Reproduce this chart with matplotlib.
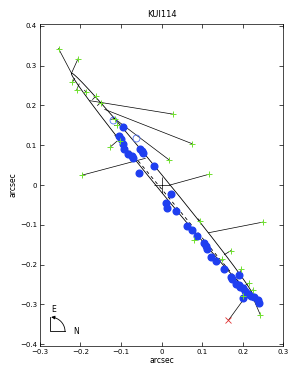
import numpy as np
import matplotlib
matplotlib.use("Agg")
import matplotlib.pyplot as plt

# orbit ends (apastron / periastron side) and projected minor half-width
orbit_a_end = (-0.222, 0.281)
orbit_b_end = (0.224, -0.275)
orbit_minor = 0.014

# dashed line
dash_x = [-0.11, 0.20]
dash_y = [0.125, -0.255]

# measured positions (green +) and predicted positions on the orbit
gx = [-0.254, -0.206, -0.220, -0.209, -0.186, -0.162, -0.150, 0.029, -0.115, -0.109,
      -0.102, -0.127, 0.075, 0.019, -0.195, 0.117, 0.096, 0.251, 0.081, 0.171,
      0.148, 0.197, 0.215, 0.225, 0.200, 0.244]
gy = [0.343, 0.317, 0.258, 0.240, 0.234, 0.223, 0.207, 0.178, 0.167, 0.150,
      0.110, 0.095, 0.104, 0.063, 0.025, 0.027, -0.091, -0.093, -0.138, -0.165,
      -0.187, -0.210, -0.247, -0.264, -0.280, -0.327]
px = [-0.222, -0.222, -0.214, -0.203, -0.190, -0.170, -0.158, -0.177, -0.125, -0.118,
      -0.115, -0.110, -0.140, -0.120, -0.040, 0.021, 0.090, 0.116, 0.088, 0.155,
      0.152, 0.192, 0.207, 0.218, 0.212, 0.222]
py = [0.281, 0.281, 0.268, 0.254, 0.238, 0.215, 0.200, 0.212, 0.165, 0.150,
      0.125, 0.110, 0.190, 0.170, 0.067, 0.000, -0.085, -0.120, -0.128, -0.175,
      -0.190, -0.232, -0.252, -0.266, -0.272, -0.275]

# rejected measurement (red x)
rx, ry = [0.165], [-0.340]
rpx, rpy = [0.215], [-0.270]

# blue filled points
bx = [-0.094, -0.105, -0.101, -0.096, -0.093, -0.082, -0.074, -0.070, -0.053, -0.049,
      -0.045, -0.018, -0.056, 0.023, 0.011, 0.013, 0.035, 0.064, 0.074, 0.087,
      0.105, 0.110, 0.113, 0.121, 0.135, 0.154, 0.171, 0.174, 0.192, 0.184,
      0.190, 0.194, 0.202, 0.206, 0.200, 0.214, 0.220, 0.227, 0.237, 0.240]
by = [0.146, 0.123, 0.115, 0.102, 0.090, 0.077, 0.073, 0.069, 0.090, 0.086,
      0.081, 0.048, 0.029, -0.023, -0.045, -0.057, -0.066, -0.103, -0.112, -0.128,
      -0.145, -0.154, -0.162, -0.181, -0.191, -0.212, -0.232, -0.235, -0.227, -0.249,
      -0.252, -0.257, -0.259, -0.267, -0.284, -0.275, -0.280, -0.282, -0.288, -0.296]

# blue open circles
ox = [-0.119, -0.062]
oy = [0.163, 0.119]

xticks = [-0.3, -0.2, -0.1, 0, 0.1, 0.2, 0.3]
yticks = [-0.4, -0.3, -0.2, -0.1, 0, 0.1, 0.2, 0.3, 0.4]

fig = plt.figure(figsize=(2.91, 3.73), dpi=100)
ax = fig.add_axes([0.137, 0.072, 0.836, 0.864])

# orbit ellipse
cx = (orbit_a_end[0] + orbit_b_end[0]) / 2
cy = (orbit_a_end[1] + orbit_b_end[1]) / 2
ux = (orbit_b_end[0] - orbit_a_end[0]) / 2
uy = (orbit_b_end[1] - orbit_a_end[1]) / 2
ua = np.hypot(ux, uy)
vx, vy = -uy / ua * orbit_minor, ux / ua * orbit_minor
t = np.linspace(0, 2 * np.pi, 400)
ax.plot(cx + ux * np.cos(t) + vx * np.sin(t), cy + uy * np.cos(t) + vy * np.sin(t),
        color='black', lw=0.6)

ax.plot(dash_x, dash_y, color='black', lw=0.6, ls=(0, (4, 4)))

# residual lines
for i in range(len(gx)):
    ax.plot([gx[i], px[i]], [gy[i], py[i]], color='black', lw=0.5)
for i in range(len(rx)):
    ax.plot([rx[i], rpx[i]], [ry[i], rpy[i]], color='black', lw=0.5)

# primary star
ax.plot([0], [0], marker='+', color='black', ms=12, mew=0.5)

ax.plot(bx, by, 'o', color='#1f3ff0', ms=4.8, mec='#1f3ff0')
ax.plot(ox, oy, 'o', mfc='none', mec='#5070f0', ms=5, mew=0.6)
ax.plot(gx, gy, '+', color='#70e030', ms=5, mew=0.7)
ax.plot(rx, ry, 'x', color='#e03030', ms=4, mew=0.6)

# compass
r = 0.036
c0 = (-0.274, -0.368)
th = np.linspace(0, np.pi / 2 - 0.15, 50)
ax.plot([c0[0], c0[0], c0[0] + r], [c0[1] + r, c0[1], c0[1]], color='black', lw=0.6)
ax.plot(c0[0] + r * np.cos(th), c0[1] + r * np.sin(th), color='black', lw=0.6)
ax.annotate('', xy=(c0[0] + 0.002, c0[1] + r), xytext=(c0[0] + r * np.cos(th[-1]), c0[1] + r * np.sin(th[-1])),
            arrowprops=dict(arrowstyle='-|>', color='black', lw=0.6, mutation_scale=5))
ax.text(-0.267, -0.313, 'E', fontsize=5.5, ha='center', va='center')
ax.text(-0.211, -0.368, 'N', fontsize=5.5, ha='center', va='center')

ax.set_xlim(-0.3, 0.3)
ax.set_ylim(-0.405, 0.405)
ax.set_xticks(xticks)
ax.set_yticks(yticks)
ax.set_xticklabels(['\u22120.3', '\u22120.2', '\u22120.1', '0', '0.1', '0.2', '0.3'])
ax.set_yticklabels(['\u22120.4', '\u22120.3', '\u22120.2', '\u22120.1', '0', '0.1', '0.2', '0.3', '0.4'])
ax.tick_params(direction='in', top=True, right=True, length=3, width=0.5, labelsize=5, pad=2)
for s in ax.spines.values():
    s.set_linewidth(0.5)

ax.set_title('KUI114', fontsize=6, pad=5)
ax.set_xlabel('arcsec', fontsize=5.5, labelpad=1)
ax.set_ylabel('arcsec', fontsize=5.5, labelpad=2)

plt.savefig('out.png', dpi=100)
